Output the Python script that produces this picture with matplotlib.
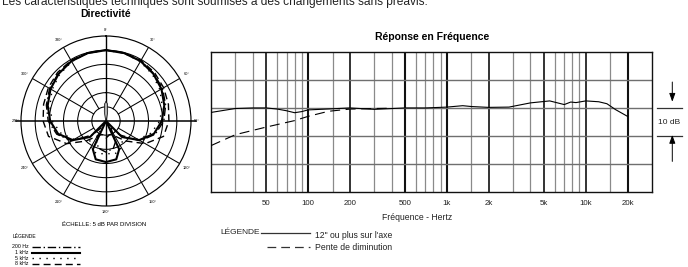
import numpy as np
import matplotlib
matplotlib.use("Agg")
import matplotlib.pyplot as plt
from matplotlib.lines import Line2D
import matplotlib.transforms as mtransforms

plt.rcParams['font.family'] = ['Liberation Sans', 'DejaVu Sans']

# ---------------- data ----------------
# frequency response (Hz, dB)
freq_solid = [20, 30, 40, 50, 60, 70, 80, 90, 100, 150, 200, 300, 500, 700,
              1000, 1300, 1500, 2000, 2800, 4000, 5500, 7000, 7800, 8500,
              10000, 12400, 14200, 16400, 20000]
db_solid = [-1.6, -0.2, 0.0, 0.0, -0.4, -1.0, -1.7, -1.3, -0.7, -0.3, 0.0,
            -0.5, 0.0, 0.0, 0.3, 0.8, 0.5, 0.2, 0.3, 1.8, 2.5, 1.2, 2.1, 1.9,
            2.5, 2.2, 1.5, -0.6, -3.0]
freq_dash = [20, 30, 50, 80, 100, 140, 200, 300, 400]
db_dash = [-13.4, -9.5, -6.8, -4.5, -3.0, -1.2, -0.4, -0.2, -0.1]

tick_freqs = [50, 100, 200, 500, 1000, 2000, 5000, 10000, 20000]
tick_labels = ['50', '100', '200', '500', '1k', '2k', '5k', '10k', '20k']
grid_dark = [50, 100, 200, 500, 1000, 2000, 5000, 10000, 20000]
grid_light = [30, 40, 60, 70, 80, 90, 150, 300, 400, 600, 700, 800, 900,
              1500, 3000, 4000, 6000, 7000, 8000, 9000, 15000]
grid_db = [-20, -10, 0, 10]

# polar pattern (degrees, dB) – half pattern, mirrored
pol_angles = [0, 15, 30, 45, 60, 75, 90, 105, 120, 135, 145, 155, 165, 180]
pol_200 = [0, -0.2, -0.5, -1.2, -2.0, -3.2, -4.6, -7.0, -11.0, -18.0, -22.0, -17.0, -15.0, -14.0]
pol_1k = [0, -0.2, -0.6, -1.4, -2.4, -3.7, -5.3, -7.5, -11.5, -17.0, -25.0, -14.0, -11.0, -10.5]
pol_5k = [0, -0.2, -0.8, -1.8, -3.0, -4.5, -6.0, -8.5, -12.0, -17.0, -15.0, -13.5, -13.0, -13.5]
pol_8k = [0, -0.1, -0.3, -0.8, -1.5, -2.2, -2.8, -4.0, -9.0, -15.0, -18.0, -19.5, -20.0, -19.0]
lobe_angles = [-20, -15, -10, -5, 0, 5, 10, 15, 20]
lobe_db = [-25, -24, -21.5, -19, -18, -19, -21.5, -24, -25]
angle_ticks = [0, 30, 60, 90, 120, 150, 180, 210, 240, 270, 300, 330]
ring_db = [-20, -15, -10, -5, 0]

W, H = 688, 267
fig = plt.figure(figsize=(W / 100, H / 100), dpi=100)


def fx(x):
    return x / W


def fy(y):
    return 1 - y / H


# ---------------- top cut text ----------------
fig.text(fx(2), fy(5), "Les caractéristiques techniques sont soumises à des changements sans préavis.",
         fontsize=8.6, va='baseline', ha='left', color='#222222')

# ---------------- polar chart ----------------
cx, cy, R = 106, 121, 85
pax = fig.add_axes([fx(cx - R), fy(cy + R), (2 * R) / W, (2 * R) / H], projection='polar')
pax.set_theta_zero_location('N')
pax.set_theta_direction(-1)
pax.set_ylim(-25, 5)
pax.set_rgrids(ring_db, labels=[''] * len(ring_db))
pax.set_thetagrids([], [])
pax.grid(True, axis='y', color='black', lw=0.75)
pax.spines['polar'].set_linewidth(0.85)
pax.set_facecolor('white')
for a in angle_ticks:
    if a % 90 == 0:
        continue
    t = np.deg2rad(a)
    pax.plot([t, t], [-20, 5], color='black', lw=0.75)
# main axes through the centre
pax.plot([np.deg2rad(90), np.deg2rad(90)], [-25, 6.8], color='black', lw=1.1, clip_on=False)
pax.plot([np.deg2rad(270), np.deg2rad(270)], [-25, 6.8], color='black', lw=1.1, clip_on=False)
pax.plot([0, 0], [-25, 5], color='black', lw=1.0)
pax.plot([np.pi, np.pi], [-25, 5], color='black', lw=1.0)


def mirror(ang, val):
    a = np.array(ang, dtype=float)
    v = np.array(val, dtype=float)
    full_a = np.concatenate([a, 360 - a[::-1][1:]])
    full_v = np.concatenate([v, v[::-1][1:]])
    return np.deg2rad(full_a), full_v


t, v = mirror(pol_angles, pol_8k)
pax.plot(t, v, color='black', lw=1.0, ls=(0, (5, 3)))
t, v = mirror(pol_angles, pol_5k)
pax.plot(t, v, color='black', lw=1.0, ls=(0, (1, 4)))
t, v = mirror(pol_angles, pol_200)
pax.plot(t, v, color='black', lw=1.0, ls=(0, (6, 2, 1, 2)))
t, v = mirror(pol_angles, pol_1k)
pax.plot(t, v, color='black', lw=1.5)
pax.fill(np.deg2rad(lobe_angles), lobe_db, facecolor='#b0b0b0', edgecolor='black', lw=0.5, zorder=5)

for a in angle_ticks:
    r = 8.0 if a % 90 else 7.0
    pax.text(np.deg2rad(a), r, f"{a}°", fontsize=2.8, ha='center', va='center', clip_on=False)

fig.text(fx(106), fy(14), "Directivité", fontsize=7.5, fontweight='bold', ha='center', va='center')
fig.text(fx(104), fy(225), "ÉCHELLE: 5 dB PAR DIVISION", fontsize=4.3, ha='center', va='center')

# polar legend
fig.text(fx(13), fy(236), "LÉGENDE", fontsize=3.6, ha='left', va='center')
leg_rows = [("200 Hz", 247, dict(lw=1.0, ls=(0, (6, 2, 1, 2)))),
            ("1 kHz", 252.7, dict(lw=1.5, ls='-')),
            ("5 kHz", 258, dict(lw=1.0, ls=(0, (1, 4)))),
            ("8 kHz", 263.5, dict(lw=1.0, ls=(0, (5, 3))))]
for lab, yy, st in leg_rows:
    fig.text(fx(28.5), fy(yy), lab, fontsize=3.8, ha='right', va='center')
    fig.add_artist(Line2D([fx(32), fx(80)], [fy(yy), fy(yy)], color='black', **st))

# ---------------- frequency response ----------------
x0, x1, y0, y1 = 211, 652, 51.7, 192.3
ax = fig.add_axes([fx(x0), fy(y1), (x1 - x0) / W, (y1 - y0) / H])
ax.set_xscale('log')
ax.set_xlim(20, 30000)
ax.set_ylim(-30, 20)
for f in grid_light:
    ax.axvline(f, color='#8a8a8a', lw=0.9, zorder=1)
for f in grid_dark:
    lw = 1.5 if f in (100, 500, 1000, 20000) else 1.2
    ax.axvline(f, color='#111111', lw=lw, zorder=1)
for d in grid_db:
    ax.axhline(d, color='#6f6f6f', lw=1.0, zorder=1)
ax.plot(freq_solid, db_solid, color='black', lw=0.8, zorder=3)
ax.plot(freq_dash, db_dash, color='black', lw=0.8, ls=(0, (9, 5)), zorder=3)
ax.set_xticks(tick_freqs)
ax.set_xticklabels(tick_labels, fontsize=5.7, color='#222222')
ax.xaxis.set_minor_locator(matplotlib.ticker.NullLocator())
ax.tick_params(axis='x', length=0, pad=5.5)
ax.set_yticks([])
for s in ax.spines.values():
    s.set_linewidth(1.0)
    s.set_color('#111111')

fig.text(fx(432), fy(37), "Réponse en Fréquence", fontsize=7.5, fontweight='bold', ha='center', va='center')
fig.text(fx(417), fy(217.3), "Fréquence - Hertz", fontsize=6.2, ha='center', va='center', color='#222222')

# 10 dB bracket
trans = mtransforms.blended_transform_factory(ax.transAxes, ax.transData)
xa0, xa1 = (657.3 - x0) / (x1 - x0), (681.7 - x0) / (x1 - x0)
xarr = (672.3 - x0) / (x1 - x0)
for d in (0, -10):
    ax.add_line(Line2D([xa0, xa1], [d, d], transform=trans, color='#333333', lw=0.9, clip_on=False))
ax.annotate('', xy=(xarr, 1.2), xytext=(xarr, 10.2), xycoords=trans, textcoords=trans,
            arrowprops=dict(arrowstyle='-|>,head_length=0.5,head_width=0.18', color='black', lw=0.7),
            annotation_clip=False)
ax.annotate('', xy=(xarr, -8.6), xytext=(xarr, -20.0), xycoords=trans, textcoords=trans,
            arrowprops=dict(arrowstyle='-|>,head_length=0.5,head_width=0.18', color='black', lw=0.7),
            annotation_clip=False)
ax.text((669.5 - x0) / (x1 - x0), -5, "10 dB", transform=trans, fontsize=6.0,
        ha='center', va='center', color='#222222', clip_on=False)

# frequency legend
fig.text(fx(220), fy(232.7), "LÉGENDE", fontsize=6.0, ha='left', va='center', color='#222222')
fig.add_artist(Line2D([fx(261), fx(310)], [fy(232.5), fy(232.5)], color='#333333', lw=0.9))
fig.text(fx(315), fy(235), "12\" ou plus sur l'axe", fontsize=6.2, ha='left', va='center', color='#222222')
fig.add_artist(Line2D([fx(266.7), fx(310)], [fy(247), fy(247)], color='#333333', lw=0.9, ls=(0, (7, 4))))
fig.text(fx(315), fy(248), "Pente de diminution", fontsize=6.2, ha='left', va='center', color='#222222')

fig.savefig("out.png", dpi=100, facecolor='white')
